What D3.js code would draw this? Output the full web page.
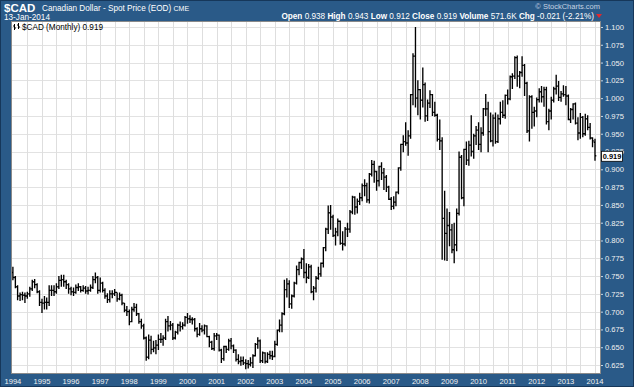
<!DOCTYPE html>
<html>
<head>
<meta charset="utf-8">
<script src="https://cdn.jsdelivr.net/npm/d3@7"></script>
<style>
  body { margin: 0; background: #fff; }
  svg { display: block; }
  text { font-family: "Liberation Sans", Arial, sans-serif; }
</style>
</head>
<body>
<div id="chart"></div>
<script>
// monthly OHLC, Jan 1994 .. Jan 2014 (one row per year)
var opens = [
  0.755,0.748,0.735,0.722,0.724,0.723,0.722,0.725,0.732,0.742,0.738,0.728,
  0.713,0.712,0.713,0.713,0.730,0.730,0.728,0.735,0.744,0.745,0.742,0.738,
  0.732,0.728,0.727,0.734,0.735,0.730,0.733,0.729,0.730,0.734,0.745,0.748,
  0.730,0.740,0.730,0.722,0.717,0.725,0.725,0.727,0.718,0.723,0.712,0.702,
  0.700,0.686,0.703,0.706,0.697,0.686,0.680,0.663,0.636,0.660,0.647,0.649,
  0.653,0.661,0.661,0.663,0.686,0.680,0.681,0.663,0.671,0.681,0.679,0.681,
  0.692,0.690,0.689,0.689,0.676,0.668,0.676,0.674,0.680,0.665,0.657,0.648,
  0.666,0.667,0.646,0.634,0.651,0.647,0.659,0.652,0.646,0.633,0.630,0.631,
  0.628,0.627,0.626,0.628,0.638,0.654,0.659,0.631,0.642,0.630,0.640,0.638,
  0.637,0.654,0.674,0.681,0.697,0.731,0.739,0.711,0.722,0.740,0.759,0.769,
  0.774,0.755,0.748,0.763,0.728,0.733,0.747,0.753,0.768,0.790,0.816,0.839,
  0.833,0.807,0.812,0.827,0.796,0.795,0.816,0.816,0.840,0.861,0.847,0.855,
  0.860,0.877,0.877,0.857,0.893,0.907,0.897,0.884,0.904,0.895,0.889,0.875,
  0.858,0.848,0.854,0.868,0.902,0.935,0.939,0.937,0.947,1.005,1.059,1.000,
  1.012,0.997,1.019,0.975,0.993,1.005,0.980,0.976,0.942,0.940,0.831,0.810,
  0.821,0.815,0.787,0.794,0.838,0.917,0.860,0.928,0.913,0.934,0.925,0.947,
  0.955,0.935,0.951,0.985,0.985,0.953,0.940,0.972,0.939,0.971,0.980,0.976,
  1.004,0.999,1.030,1.031,1.057,1.031,1.036,1.046,1.021,0.954,1.002,0.980,
  0.982,0.998,1.009,1.002,1.012,0.967,0.982,0.997,1.013,1.017,1.001,1.006,
  1.005,1.003,0.970,0.984,0.992,0.965,0.951,0.973,0.950,0.971,0.959,0.944,
  0.938
];
var highs = [
  0.763,0.750,0.737,0.727,0.728,0.727,0.728,0.735,0.745,0.746,0.740,0.730,
  0.718,0.722,0.720,0.737,0.737,0.737,0.740,0.750,0.752,0.752,0.745,0.740,
  0.735,0.734,0.738,0.740,0.736,0.737,0.736,0.735,0.738,0.750,0.755,0.750,
  0.748,0.742,0.733,0.726,0.730,0.730,0.732,0.727,0.727,0.725,0.712,0.708,
  0.703,0.707,0.712,0.711,0.698,0.690,0.683,0.665,0.668,0.666,0.659,0.660,
  0.668,0.670,0.667,0.690,0.694,0.687,0.684,0.673,0.683,0.686,0.685,0.694,
  0.698,0.695,0.692,0.691,0.678,0.684,0.681,0.682,0.681,0.666,0.659,0.670,
  0.670,0.668,0.648,0.652,0.652,0.662,0.663,0.654,0.647,0.640,0.637,0.637,
  0.633,0.632,0.636,0.640,0.656,0.664,0.661,0.644,0.643,0.643,0.645,0.645,
  0.659,0.675,0.689,0.699,0.745,0.747,0.744,0.724,0.742,0.765,0.770,0.776,
  0.788,0.768,0.767,0.766,0.736,0.750,0.763,0.769,0.791,0.818,0.849,0.850,
  0.836,0.818,0.831,0.828,0.813,0.819,0.825,0.843,0.863,0.862,0.859,0.867,
  0.880,0.886,0.881,0.895,0.913,0.912,0.898,0.905,0.910,0.902,0.892,0.877,
  0.861,0.862,0.869,0.903,0.936,0.948,0.966,0.955,1.006,1.063,1.100,1.025,
  1.013,1.043,1.022,0.998,1.011,1.006,0.995,0.978,0.970,0.945,0.870,0.845,
  0.840,0.823,0.825,0.845,0.925,0.920,0.929,0.939,0.940,0.976,0.950,0.961,
  0.966,0.959,0.986,1.006,0.995,0.980,0.977,0.980,0.977,0.995,0.997,1.005,
  1.012,1.032,1.035,1.059,1.060,1.038,1.059,1.048,1.023,1.004,1.004,0.988,
  1.001,1.014,1.017,1.016,1.016,0.985,1.002,1.016,1.033,1.024,1.010,1.018,
  1.017,1.005,0.986,0.993,0.994,0.973,0.979,0.975,0.978,0.976,0.965,0.945,
  0.943
];
var lows = [
  0.744,0.733,0.716,0.715,0.716,0.712,0.718,0.721,0.729,0.733,0.726,0.708,
  0.698,0.703,0.703,0.708,0.722,0.722,0.725,0.732,0.735,0.735,0.732,0.725,
  0.723,0.722,0.725,0.729,0.727,0.728,0.725,0.724,0.728,0.732,0.740,0.725,
  0.727,0.727,0.718,0.712,0.713,0.719,0.722,0.714,0.716,0.709,0.699,0.694,
  0.681,0.685,0.700,0.694,0.683,0.676,0.661,0.631,0.633,0.640,0.643,0.640,
  0.646,0.656,0.652,0.660,0.672,0.674,0.660,0.661,0.668,0.672,0.675,0.679,
  0.683,0.684,0.682,0.672,0.664,0.666,0.671,0.668,0.664,0.650,0.646,0.645,
  0.660,0.644,0.628,0.631,0.642,0.645,0.647,0.642,0.630,0.626,0.624,0.625,
  0.619,0.620,0.623,0.621,0.637,0.648,0.628,0.628,0.627,0.628,0.633,0.632,
  0.636,0.652,0.671,0.671,0.695,0.720,0.705,0.704,0.720,0.738,0.751,0.760,
  0.747,0.740,0.746,0.726,0.716,0.727,0.745,0.749,0.762,0.785,0.809,0.815,
  0.805,0.793,0.806,0.794,0.786,0.792,0.805,0.811,0.837,0.836,0.838,0.850,
  0.855,0.862,0.853,0.852,0.890,0.881,0.870,0.876,0.885,0.871,0.868,0.857,
  0.843,0.844,0.848,0.865,0.898,0.924,0.933,0.919,0.943,0.990,0.987,0.976,
  0.970,0.987,0.967,0.968,0.986,0.975,0.974,0.939,0.927,0.773,0.772,0.771,
  0.792,0.782,0.768,0.785,0.835,0.858,0.848,0.906,0.905,0.918,0.915,0.934,
  0.927,0.924,0.947,0.975,0.924,0.938,0.932,0.936,0.937,0.963,0.972,0.971,
  0.991,0.997,1.013,1.027,1.016,1.014,1.030,1.003,0.951,0.939,0.957,0.960,
  0.973,0.994,0.994,0.988,0.963,0.955,0.970,0.994,1.005,0.996,0.995,1.002,
  0.990,0.969,0.965,0.970,0.963,0.941,0.943,0.945,0.947,0.955,0.942,0.931,
  0.912
];
var closes = [
  0.748,0.735,0.722,0.724,0.723,0.722,0.725,0.732,0.742,0.738,0.728,0.713,
  0.712,0.713,0.713,0.730,0.730,0.728,0.735,0.744,0.745,0.742,0.738,0.732,
  0.728,0.727,0.734,0.735,0.730,0.733,0.729,0.730,0.734,0.745,0.748,0.730,
  0.740,0.730,0.722,0.717,0.725,0.725,0.727,0.718,0.723,0.712,0.702,0.700,
  0.686,0.703,0.706,0.697,0.686,0.680,0.663,0.636,0.660,0.647,0.649,0.653,
  0.661,0.661,0.663,0.686,0.680,0.681,0.663,0.671,0.681,0.679,0.681,0.692,
  0.690,0.689,0.689,0.676,0.668,0.676,0.674,0.680,0.665,0.657,0.648,0.666,
  0.667,0.646,0.634,0.651,0.647,0.659,0.652,0.646,0.633,0.630,0.631,0.628,
  0.627,0.626,0.628,0.638,0.654,0.659,0.631,0.642,0.630,0.640,0.638,0.637,
  0.654,0.674,0.681,0.697,0.731,0.739,0.711,0.722,0.740,0.759,0.769,0.774,
  0.755,0.748,0.763,0.728,0.733,0.747,0.753,0.768,0.790,0.816,0.839,0.833,
  0.807,0.812,0.827,0.796,0.795,0.816,0.816,0.840,0.861,0.847,0.855,0.860,
  0.877,0.877,0.857,0.893,0.907,0.897,0.884,0.904,0.895,0.889,0.875,0.858,
  0.848,0.854,0.868,0.902,0.935,0.939,0.937,0.947,1.005,1.059,1.000,1.012,
  0.997,1.019,0.975,0.993,1.005,0.980,0.976,0.942,0.940,0.831,0.810,0.821,
  0.815,0.787,0.794,0.838,0.917,0.860,0.928,0.913,0.934,0.925,0.947,0.955,
  0.935,0.951,0.985,0.985,0.953,0.940,0.972,0.939,0.971,0.980,0.976,1.004,
  0.999,1.030,1.031,1.057,1.031,1.036,1.046,1.021,0.954,1.002,0.980,0.982,
  0.998,1.009,1.002,1.012,0.967,0.982,0.997,1.013,1.017,1.001,1.006,1.005,
  1.003,0.970,0.984,0.992,0.965,0.951,0.973,0.950,0.971,0.959,0.944,0.940,
  0.919
];
var years = d3.range(1994, 2015);
var priceTicks = [1.100,1.075,1.050,1.025,1.000,0.975,0.950,0.925,0.900,0.875,0.850,
  0.825,0.800,0.775,0.750,0.725,0.700,0.675,0.650,0.625];
var quoteLabels = ["Open", "High", "Low", "Close", "Volume", "Chg"];
var quoteValues = ["0.938", "0.943", "0.912", "0.919", "571.6K", "-0.021 (-2.21%)"];
var lastClose = 0.919;

var W = 634, H = 387;
var plot = {left: 11, right: 601, top: 21, bottom: 374};
var blue = "#2a5a88";

var svg = d3.select("#chart").append("svg")
  .attr("width", W).attr("height", H);

svg.append("rect").attr("width", W).attr("height", H).attr("fill", blue);
svg.append("rect").attr("x", 0.5).attr("y", 0.5).attr("width", W - 1).attr("height", H - 1)
  .attr("fill", "none").attr("stroke", "#16375a");

// scales
var x = d3.scaleTime()
  .domain([new Date(1994, 0, 1), new Date(2014, 0, 1)])
  .range([12.9, 595]);
var y = d3.scaleLinear()
  .domain([0.6138, 1.107])
  .range([373, 22]);

var data = closes.map(function(c, i) {
  return {date: new Date(1994, i, 1), o: opens[i], h: highs[i], l: lows[i], c: c};
});

// plot background
svg.append("rect")
  .attr("x", plot.left).attr("y", plot.top)
  .attr("width", plot.right - plot.left).attr("height", plot.bottom - plot.top)
  .attr("fill", "#fff");

// grid
var grid = svg.append("g").attr("shape-rendering", "crispEdges");
grid.selectAll(".hg").data(priceTicks).enter().append("line")
  .attr("x1", plot.left).attr("x2", plot.right)
  .attr("y1", function(d) { return Math.round(y(d)) + 0.5; })
  .attr("y2", function(d) { return Math.round(y(d)) + 0.5; })
  .attr("stroke", "#e2e2e2");
var halfYears = d3.timeMonth.every(6).range(new Date(1994, 6, 1), new Date(2014, 1, 1));
grid.selectAll(".vg").data(halfYears).enter().append("line")
  .attr("x1", function(d) { return Math.round(x(d)) + 0.5; })
  .attr("x2", function(d) { return Math.round(x(d)) + 0.5; })
  .attr("y1", plot.top).attr("y2", plot.bottom)
  .attr("stroke", "#dedede");

// OHLC bars
svg.append("g").selectAll("path").data(data).enter().append("path")
  .attr("d", function(d) {
    var px = x(d.date);
    return "M" + px + "," + y(d.h) + "V" + y(d.l) +
      "M" + (px - 1.3) + "," + y(d.o) + "H" + px +
      "M" + px + "," + y(d.c) + "H" + (px + 1.3);
  })
  .attr("fill", "none")
  .attr("stroke", "#000")
  .attr("stroke-width", 1.35);

// plot frame
svg.append("rect")
  .attr("x", plot.left + 0.5).attr("y", plot.top + 0.5)
  .attr("width", plot.right - plot.left - 1).attr("height", plot.bottom - plot.top - 1)
  .attr("fill", "none").attr("stroke", "#8a8a8a").attr("shape-rendering", "crispEdges");

// right price axis
var yAxis = svg.append("g")
  .attr("transform", "translate(" + plot.right + ",0)")
  .call(d3.axisRight(y).tickValues(priceTicks).tickFormat(d3.format(".3f")).tickSize(2).tickPadding(2));
yAxis.select(".domain").remove();
yAxis.selectAll("line").attr("stroke", "#c9d6e3");
yAxis.selectAll("text")
  .attr("fill", "#f2f2f2")
  .style("font-size", "7.6px")
  .style("font-family", "'Liberation Sans', Arial, sans-serif");

// bottom year labels
svg.append("g").selectAll("text").data(years).enter().append("text")
  .attr("x", function(d) { return Math.max(10, x(new Date(d, 0, 1))); })
  .attr("y", 383.5)
  .attr("text-anchor", "middle")
  .attr("fill", "#f2f2f2")
  .style("font-size", "7.6px")
  .text(function(d) { return d; });

// last price marker (covers part of the 0.925 label, as in the original)
var ly = y(lastClose);
svg.append("rect")
  .attr("x", 601.5).attr("y", ly - 4.5).attr("width", 21).attr("height", 10)
  .attr("fill", "#fff").attr("stroke", "#000").attr("stroke-width", 0.8);
svg.append("text")
  .attr("x", 612).attr("y", ly + 3.2)
  .attr("text-anchor", "middle")
  .style("font-size", "7.4px").style("font-weight", "bold")
  .attr("fill", "#000")
  .text(d3.format(".3f")(lastClose));

// header
svg.append("text").attr("x", 4).attr("y", 12)
  .style("font-size", "11.5px").style("font-weight", "bold").attr("fill", "#fff")
  .text("$CAD");
var sub = svg.append("text").attr("x", 42).attr("y", 11)
  .style("font-size", "8.2px").attr("fill", "#fff");
sub.append("tspan").text("Canadian Dollar - Spot Price (EOD) ");
sub.append("tspan").style("font-size", "7px").text("CME");
svg.append("text").attr("x", 4).attr("y", 20)
  .style("font-size", "8.2px").attr("fill", "#fff")
  .text("13-Jan-2014");

svg.append("text").attr("x", 600).attr("y", 9)
  .attr("text-anchor", "end")
  .style("font-size", "7.5px").attr("fill", "#c5d3e2")
  .text("\u00a9 StockCharts.com");

var quote = svg.append("text").attr("x", 594).attr("y", 19)
  .attr("text-anchor", "end")
  .style("font-size", "8.2px").attr("fill", "#fff");
quoteLabels.forEach(function(lbl, i) {
  quote.append("tspan").style("font-weight", "bold").text((i ? " " : "") + lbl + " ");
  quote.append("tspan").text(quoteValues[i]);
});
svg.append("path")
  .attr("d", "M596,14H602L599,18Z")
  .attr("fill", "#e0282e");

// in-plot legend with small bar icon
var icon = svg.append("g").attr("stroke", "#000").attr("stroke-width", 1).attr("fill", "none");
icon.append("path").attr("d", "M14.5,24V30M13,26H14.5M14.5,28H16");
icon.append("path").attr("d", "M18.5,23V29M17,25H18.5M18.5,27H20");
svg.append("text").attr("x", 22).attr("y", 29.5)
  .style("font-size", "8.2px").attr("fill", "#000")
  .text("$CAD (Monthly) 0.919");
</script>
</body>
</html>
